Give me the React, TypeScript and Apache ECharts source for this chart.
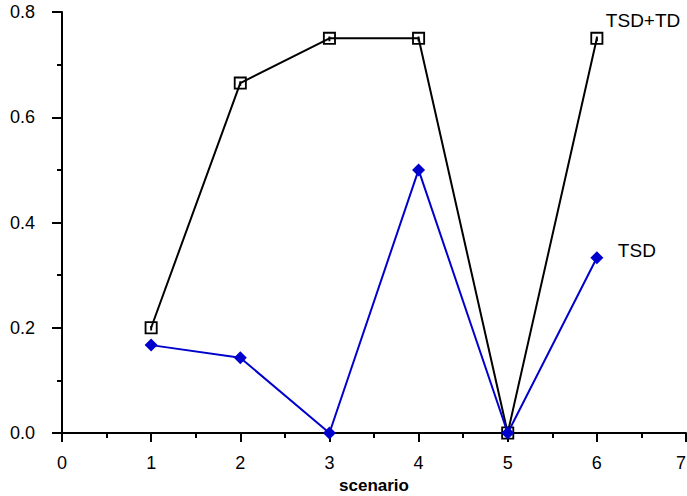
import React, { useEffect, useRef } from "react";
import * as echarts from "echarts";

const scenarios = [1, 2, 3, 4, 5, 6];
const tsdTd = [0.2, 0.665, 0.75, 0.75, 0.0, 0.75];
const tsd = [0.167, 0.143, 0.0, 0.5, 0.0, 0.333];
const seriesNames = ["TSD+TD", "TSD"];

const squareSymbol =
  "path://M0,0H12V12H0Z M1.7,1.7V10.3H10.3V1.7Z M5.1,4.3H6.9V8.6H5.1Z";

export default function App() {
  const ref = useRef<HTMLDivElement>(null);
  useEffect(() => {
    if (!ref.current) return;
    const chart = echarts.init(ref.current, null, { renderer: "svg" });
    const font = "Liberation Sans, Arial, sans-serif";
    chart.setOption({
      animation: false,
      backgroundColor: "#fff",
      textStyle: { fontFamily: font },
      grid: {
        left: 62,
        right: 1,
        top: 12,
        bottom: 63,
        containLabel: false,
        outerBoundsMode: "none",
      },
      xAxis: {
        type: "value",
        min: 0,
        max: 7,
        interval: 1,
        name: "scenario",
        nameLocation: "middle",
        nameGap: 44,
        nameTextStyle: { fontFamily: font, fontSize: 17, fontWeight: "bold", color: "#000" },
        axisLine: { onZero: false, lineStyle: { color: "#000", width: 2 } },
        axisTick: { show: true, length: 9, lineStyle: { color: "#000", width: 2 } },
        minorTick: { show: true, splitNumber: 2, length: 5, lineStyle: { color: "#000", width: 2 } },
        axisLabel: {
          fontFamily: font,
          fontSize: 18,
          color: "#000",
          margin: 21,
          alignMaxLabel: "right",
        },
        splitLine: { show: false },
      },
      yAxis: {
        type: "value",
        min: 0,
        max: 0.8,
        interval: 0.2,
        axisLine: { show: true, onZero: false, lineStyle: { color: "#000", width: 2 } },
        axisTick: { show: true, length: 10, lineStyle: { color: "#000", width: 2 } },
        minorTick: { show: true, splitNumber: 2, length: 5, lineStyle: { color: "#000", width: 2 } },
        axisLabel: {
          fontFamily: font,
          fontSize: 18,
          color: "#000",
          margin: 27,
          formatter: (v: number) => v.toFixed(1),
        },
        splitLine: { show: false },
      },
      series: [
        {
          name: seriesNames[0],
          type: "line",
          data: scenarios.map((s, i) => [s, tsdTd[i]]),
          symbol: squareSymbol,
          symbolSize: 13,
          itemStyle: { color: "#000" },
          lineStyle: { color: "#000", width: 2 },
          endLabel: {
            show: true,
            formatter: seriesNames[0],
            fontFamily: font,
            fontSize: 19,
            color: "#000",
            offset: [3, -18],
            distance: 6,
          },
          z: 2,
        },
        {
          name: seriesNames[1],
          type: "line",
          data: scenarios.map((s, i) => [s, tsd[i]]),
          symbol: "diamond",
          symbolSize: 13,
          itemStyle: { color: "#0000cc" },
          lineStyle: { color: "#0000cc", width: 2 },
          endLabel: {
            show: true,
            formatter: seriesNames[1],
            fontFamily: font,
            fontSize: 19,
            color: "#000",
            offset: [15, -7],
            distance: 6,
          },
          z: 3,
        },
      ],
    });
    return () => chart.dispose();
  }, []);
  return <div ref={ref} style={{ width: 687, height: 496, position: "absolute", left: 0, top: 0 }} />;
}
